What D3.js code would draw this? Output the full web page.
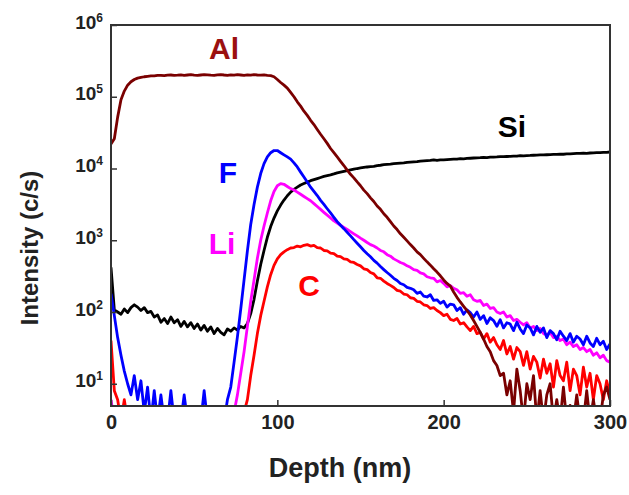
<!DOCTYPE html>
<meta charset="utf-8">
<style>
body { margin: 0; background: #fff; }
.axis text { font-family: "Liberation Sans", Arial, sans-serif; font-weight: bold; fill: #222; }
.axis line { stroke: #333; stroke-width: 1.5px; }
.axis path { stroke: none; }
.title { font-family: "Liberation Sans", Arial, sans-serif; font-weight: bold; fill: #222; }
.series-label { font-family: "Liberation Sans", Arial, sans-serif; font-weight: bold; }
.curve { fill: none; stroke-width: 2.8px; stroke-linejoin: round; }
</style>
<svg width="629" height="495"></svg>
<script src="https://d3js.org/d3.v7.min.js"></script>
<script>

// depth (nm), one sample every 2 nm
var depth = [0,2,4,6,8,10,12,14,16,18,20,22,24,26,28,30,32,34,36,38,
  40,42,44,46,48,50,52,54,56,58,60,62,64,66,68,70,72,74,76,78,
  80,82,84,86,88,90,92,94,96,98,100,102,104,106,108,110,112,114,116,118,
  120,122,124,126,128,130,132,134,136,138,140,142,144,146,148,150,152,154,156,158,
  160,162,164,166,168,170,172,174,176,178,180,182,184,186,188,190,192,194,196,198,
  200,202,204,206,208,210,212,214,216,218,220,222,224,226,228,230,232,234,236,238,
  240,242,244,246,248,250,252,254,256,258,260,262,264,266,268,270,272,274,276,278,
  280,282,284,286,288,290,292,294,296,298,300];

// intensity (c/s)
var al = [22000,26000,52000,91000,120000,145000,162000,174000,182000,186000,
  190000,193000,196000,195000,198000,199000,197000,200000,201000,199000,
  200000,202000,199000,201000,203000,200000,198000,201000,203000,202000,
  200000,199000,202000,204000,201000,199000,202000,200000,203000,201000,
  199000,202000,200000,203000,201000,200000,202000,199000,197000,190000,
  174000,158000,145000,132000,115000,100000,85000,74000,63000,55000,
  47000,41000,35000,30000,26000,22400,19000,16600,14500,12600,
  11000,9500,8300,7400,6500,5750,5000,4470,3900,3470,
  3000,2700,2340,2090,1820,1580,1410,1230,1100,980,
  870,780,690,630,560,500,450,400,360,320,
  280,250,230,190,160,138,120,105,91,76,
  63,52,42,33,28,21,18,13,14,7,
  11,4,16,8,3,10,6,13,3,8,
  3,7,10,3,6,3,9,3,5,3,
  7,3,3,8,3,6,3,3,7,9,6];

var si = [420,107,100,93,110,98,115,126,117,105,
  115,98,102,85,91,72,81,69,85,71,
  78,63,74,62,71,59,68,56,65,54,
  62,50,59,52,48,58,54,60,56,63,
  60,69,95,150,270,460,720,1100,1550,2040,
  2570,3090,3630,4170,4680,5130,5500,5890,6170,6460,
  6760,7000,7240,7500,7760,7940,8130,8400,8710,8910,
  9120,9330,9550,9770,10000,10200,10350,10500,10600,10700,
  11000,11100,11300,11400,11500,11700,11800,11900,12000,12200,
  12300,12400,12500,12700,12800,12900,12950,13200,12950,13150,
  13200,13300,13400,13500,13550,13700,13600,13800,13900,14000,
  14100,14150,14300,14200,14400,14450,14500,14650,14600,14700,
  14800,14850,14900,15100,15000,15150,15200,15300,15350,15450,
  15500,15550,15600,15700,15750,15900,15800,15950,16000,16100,
  16200,16250,16400,16300,16450,16500,16600,16650,16800,16800,17000];

var f = [180,89,44,25,15,10,7,13,6,11,
  4,9,3,8,3,7,3,3,8,3,
  3,3,7,3,3,3,3,3,8,3,
  3,3,3,3,3,6,9,20,45,110,
  280,710,1660,3160,5500,8500,11700,14500,16600,17800,
  17800,16600,15500,14500,13500,12000,10500,8900,7600,6500,
  5500,4800,4200,3600,3160,2750,2400,2090,1820,1620,
  1450,1290,1150,1020,910,810,720,650,590,525,
  480,430,390,355,325,295,275,250,240,220,
  214,204,182,190,166,162,174,145,148,132,
  141,117,129,126,105,115,93,107,98,85,
  100,79,89,69,83,76,63,78,60,71,
  68,55,72,58,50,66,60,48,63,52,
  60,44,55,50,41,54,46,40,50,38,
  46,42,35,46,37,33,43,35,39,30,36];

var li = [6,3,3,3,3,3,3,3,3,3,
  3,3,3,3,3,3,3,3,3,3,
  3,3,3,3,3,3,3,3,3,3,
  3,3,3,3,3,3,3,4,7,14,
  28,63,141,280,560,1000,1580,2400,3550,4790,
  5750,6170,6030,5620,5250,5010,4680,4370,4070,3800,
  3550,3240,2950,2690,2450,2240,2040,1860,1740,1620,
  1510,1410,1320,1230,1150,1070,1000,930,870,830,
  780,720,690,630,600,550,520,490,470,440,
  420,390,380,350,340,310,300,295,263,275,
  251,224,234,214,204,182,186,166,174,148,
  141,145,123,129,112,115,100,95,100,85,
  89,76,79,72,66,71,60,63,55,59,
  50,48,52,44,46,40,42,35,38,33,
  35,30,32,28,30,25,27,23,25,21,20];

var c = [40,8,6,3,6,3,3,3,3,3,
  3,3,3,3,3,3,3,3,3,3,
  3,3,3,3,3,3,3,3,3,3,
  3,3,3,3,3,3,3,3,3,3,
  4,6,13,25,50,89,141,224,331,447,
  550,630,690,740,780,790,830,810,850,870,
  830,850,790,780,720,710,660,650,600,590,
  550,540,500,490,460,440,400,390,355,340,
  300,295,270,250,235,220,200,195,178,174,
  158,155,141,138,126,123,112,115,105,98,
  89,93,79,76,81,68,71,62,55,63,
  50,52,42,50,38,44,35,30,40,26,
  33,22,32,28,18,28,16,24,20,12,
  22,14,19,9,21,13,11,20,8,16,
  13,7,17,9,14,6,13,10,6,11,7];

var seriesNames = ["Si", "Li", "F", "C", "Al"];
var seriesValues = [si, li, f, c, al];
var seriesColors = ["#000000", "#ff00ff", "#0000ff", "#ff0000", "#7a0000"];

var xTicks = [0, 100, 200, 300];
var yTicks = [10, 100, 1000, 10000, 100000, 1000000];

var svg = d3.select("svg"),
    margin = {top: 25, right: 19, bottom: 89, left: 111},
    width = +svg.attr("width") - margin.left - margin.right,
    height = +svg.attr("height") - margin.top - margin.bottom;

var x = d3.scaleLinear().domain([0, 300]).range([0, width]);
var y = d3.scaleLog().domain([Math.pow(10, 0.69), 1e6]).range([height, 0]);

var g = svg.append("g").attr("transform", "translate(" + margin.left + "," + margin.top + ")");

g.append("clipPath").attr("id", "plot-clip")
  .append("rect").attr("width", width).attr("height", height);

// curves
var line = d3.line()
    .x(function(d, i) { return x(depth[i]); })
    .y(function(d) { return y(d); });

g.append("g").attr("clip-path", "url(#plot-clip)")
  .selectAll("path")
  .data(seriesValues)
  .enter().append("path")
    .attr("class", "curve")
    .attr("stroke", function(d, i) { return seriesColors[i]; })
    .attr("d", line);

// x axis
var xAxis = g.append("g")
    .attr("class", "axis")
    .attr("transform", "translate(0," + height + ")")
    .call(d3.axisBottom(x).tickValues(xTicks).tickSizeInner(-6).tickSizeOuter(0).tickPadding(9));
xAxis.selectAll("text").style("font-size", "20px");

// y axis with 10^n labels
var yAxis = g.append("g")
    .attr("class", "axis")
    .call(d3.axisLeft(y).tickValues(yTicks).tickSizeInner(-6).tickSizeOuter(0).tickPadding(8)
      .tickFormat(function() { return ""; }));
yAxis.selectAll(".tick text").each(function(d) {
  var t = d3.select(this);
  t.append("tspan").style("font-size", "19px").text("10");
  t.append("tspan").attr("dy", "-0.6em").style("font-size", "12px").text(Math.round(Math.log10(d)));
});

// frame
g.append("rect")
  .attr("width", width).attr("height", height)
  .attr("fill", "none").attr("stroke", "#333").attr("stroke-width", 2);

// axis titles
svg.append("text").attr("class", "title")
  .attr("x", 340).attr("y", 477)
  .attr("text-anchor", "middle")
  .style("font-size", "27px")
  .text("Depth (nm)");

svg.append("text").attr("class", "title")
  .attr("transform", "translate(38,248) rotate(-90)")
  .attr("text-anchor", "middle")
  .style("font-size", "24px")
  .text("Intensity (c/s)");

// series labels
var labels = [
  {name: "Al", x: 224, y: 59, color: "#9b1010"},
  {name: "Si", x: 512, y: 137, color: "#000000"},
  {name: "F", x: 228, y: 183, color: "#0000ff"},
  {name: "Li", x: 222, y: 254, color: "#ff00ff"},
  {name: "C", x: 309, y: 296, color: "#ff0000"}
];
svg.selectAll(".series-label")
  .data(labels)
  .enter().append("text")
    .attr("class", "series-label")
    .attr("x", function(d) { return d.x; })
    .attr("y", function(d) { return d.y; })
    .attr("text-anchor", "middle")
    .attr("fill", function(d) { return d.color; })
    .style("font-size", "30px")
    .text(function(d) { return d.name; });

</script>
